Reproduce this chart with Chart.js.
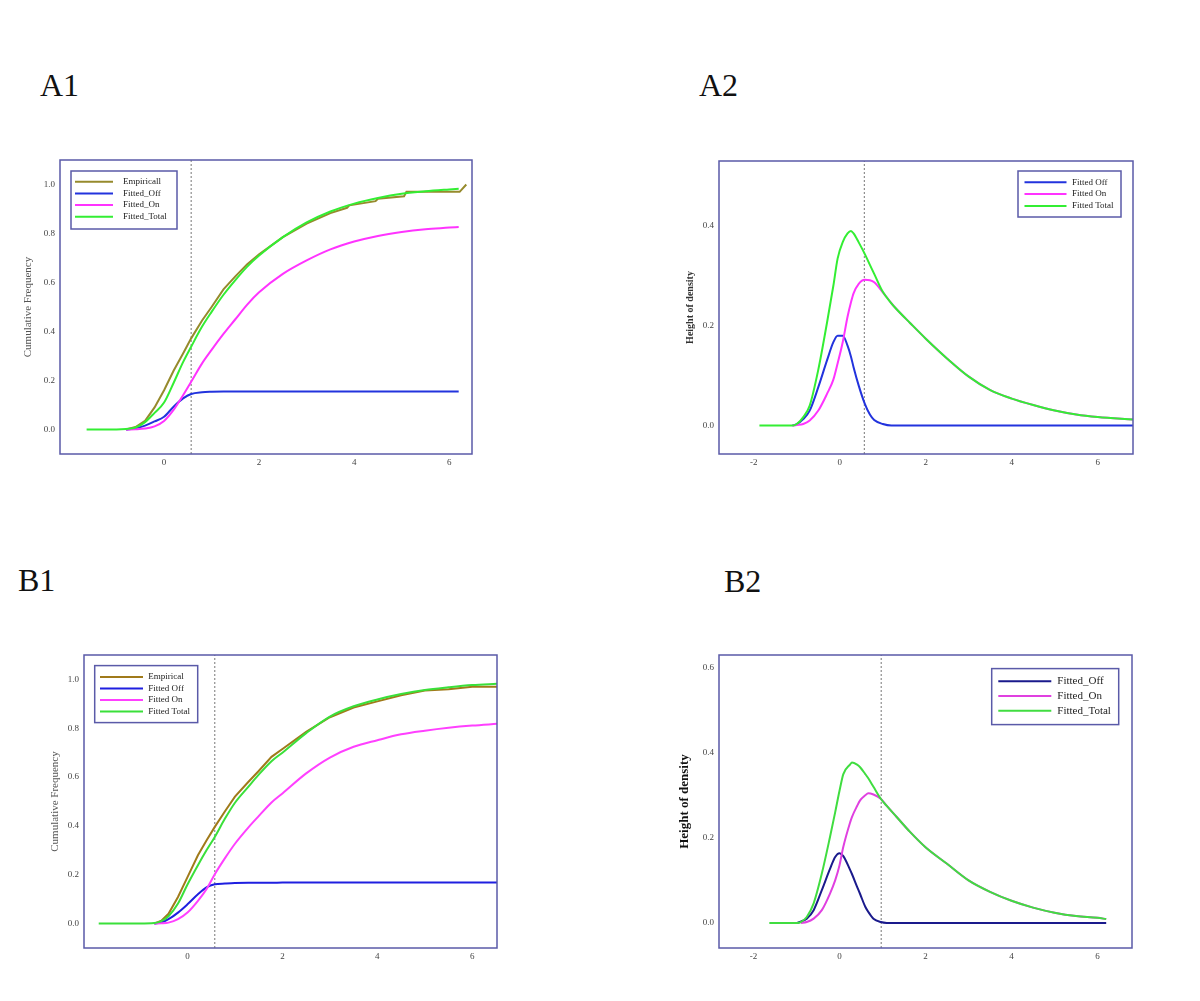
<!DOCTYPE html>
<html>
<head>
<meta charset="utf-8">
<script src="https://cdn.jsdelivr.net/npm/chart.js@4.4.0/dist/chart.umd.min.js"></script>
<style>
  body { margin: 0; background: #fff; width: 1200px; height: 1001px; position: relative; overflow: hidden; font-family: 'Liberation Serif', serif; }
  .panel-label { position: absolute; font-size: 32px; line-height: 32px; color: #111; }
  .plot { position: absolute; }
  .plot canvas { display: block; }
</style>
</head>
<body>
<div class="panel-label" style="left:40px;top:69px">A1</div>
<div class="panel-label" style="left:699px;top:69px">A2</div>
<div class="panel-label" style="left:18px;top:564px">B1</div>
<div class="panel-label" style="left:724px;top:565px">B2</div>

<div class="plot" id="boxA1"><canvas id="chartA1"></canvas></div>
<div class="plot" id="boxA2"><canvas id="chartA2"></canvas></div>
<div class="plot" id="boxB1"><canvas id="chartB1"></canvas></div>
<div class="plot" id="boxB2"><canvas id="chartB2"></canvas></div>

<script>
// ---- Data ----

// A1: cumulative frequency
const a1X = [-1.63, -1.0, -0.8, -0.6, -0.4, -0.2, 0, 0.2, 0.4, 0.57, 0.8, 1.0, 1.25, 1.5, 1.75, 2.0, 2.5, 3.0, 3.5, 4.0, 4.5, 5.0, 5.5, 6.0, 6.2];
const a1Off = [null, null, 0, 0.005, 0.016, 0.033, 0.052, 0.093, 0.127, 0.145, 0.152, 0.154, 0.155, 0.155, 0.155, 0.155, 0.155, 0.155, 0.155, 0.155, 0.155, 0.155, 0.155, 0.155, 0.155];
const a1On = [null, null, 0, 0.001, 0.004, 0.013, 0.035, 0.08, 0.14, 0.195, 0.27, 0.325, 0.39, 0.45, 0.51, 0.56, 0.635, 0.69, 0.735, 0.767, 0.79, 0.806, 0.817, 0.824, 0.827];
const a1Total = [0, 0, 0.002, 0.008, 0.03, 0.068, 0.11, 0.19, 0.275, 0.338, 0.42, 0.48, 0.55, 0.61, 0.665, 0.71, 0.785, 0.845, 0.89, 0.922, 0.945, 0.962, 0.972, 0.98, 0.983];
const a1EmpX = [-0.8, -0.6, -0.4, -0.2, 0, 0.2, 0.4, 0.57, 0.8, 1.0, 1.25, 1.5, 1.75, 2.0, 2.5, 3.0, 3.5, 3.85, 3.9, 4.45, 4.5, 5.05, 5.1, 6.22, 6.36];
const a1EmpY = [0, 0.01, 0.035, 0.09, 0.16, 0.24, 0.31, 0.372, 0.445, 0.5, 0.572, 0.625, 0.675, 0.715, 0.785, 0.84, 0.883, 0.905, 0.915, 0.932, 0.942, 0.952, 0.97, 0.97, 1.0];
const a1Labels = ['Empiricall', 'Fitted_Off', 'Fitted_On', 'Fitted_Total'];
const a1Cut = 0.57;

// A2: density
const a2X = [-1.87, -1.1, -1.0, -0.85, -0.7, -0.5, -0.3, -0.15, -0.05, 0.07, 0.18, 0.26, 0.32, 0.44, 0.58, 0.7, 0.8, 1.0, 1.2, 1.3, 1.64, 2.0, 2.5, 3.0, 3.5, 4.0, 4.5, 5.0, 5.5, 6.0, 6.82];
const a2Off = [null, 0, 0.003, 0.013, 0.03, 0.077, 0.13, 0.167, 0.18, 0.18, 0.16, 0.138, 0.117, 0.08, 0.044, 0.022, 0.011, 0.003, 0, 0, 0, 0, 0, 0, 0, 0, 0, 0, 0, 0, 0];
const a2On = [null, 0, 0.001, 0.003, 0.01, 0.03, 0.063, 0.092, 0.125, 0.168, 0.218, 0.247, 0.265, 0.284, 0.292, 0.291, 0.287, 0.267, 0.245, 0.235, 0.205, 0.174, 0.134, 0.098, 0.071, 0.054, 0.041, 0.03, 0.022, 0.017, 0.012];
const a2Total = [0, 0, 0.003, 0.017, 0.04, 0.112, 0.205, 0.28, 0.335, 0.368, 0.385, 0.39, 0.385, 0.367, 0.344, 0.322, 0.304, 0.268, 0.245, 0.235, 0.205, 0.174, 0.134, 0.098, 0.071, 0.054, 0.041, 0.03, 0.022, 0.017, 0.012];
const a2Labels = ['Fitted Off', 'Fitted On', 'Fitted Total'];
const a2Cut = 0.57;

// B1: cumulative frequency
const b1X = [-1.87, -1.0, -0.7, -0.55, -0.4, -0.2, 0, 0.22, 0.4, 0.575, 0.79, 1.0, 1.28, 1.5, 1.77, 2.0, 2.5, 3.0, 3.5, 4.0, 4.5, 5.0, 5.5, 6.0, 6.52];
const b1Off = [null, null, 0, 0.005, 0.018, 0.045, 0.079, 0.12, 0.148, 0.161, 0.164, 0.166, 0.167, 0.167, 0.167, 0.168, 0.168, 0.168, 0.168, 0.168, 0.168, 0.168, 0.168, 0.168, 0.168];
const b1On = [null, null, 0, 0.001, 0.004, 0.018, 0.045, 0.093, 0.141, 0.202, 0.268, 0.327, 0.393, 0.44, 0.496, 0.533, 0.615, 0.68, 0.724, 0.751, 0.775, 0.79, 0.802, 0.811, 0.818];
const b1Total = [0, 0, 0.002, 0.01, 0.03, 0.082, 0.16, 0.239, 0.3, 0.355, 0.43, 0.495, 0.56, 0.61, 0.665, 0.70, 0.78, 0.848, 0.89, 0.918, 0.94, 0.957, 0.968, 0.977, 0.982];
const b1EmpX = [-0.7, -0.55, -0.4, -0.2, 0, 0.22, 0.4, 0.575, 0.79, 1.0, 1.28, 1.5, 1.77, 2.0, 2.5, 3.0, 3.5, 4.0, 4.5, 5.0, 5.5, 6.0, 6.52];
const b1EmpY = [0, 0.012, 0.04, 0.109, 0.19, 0.28, 0.34, 0.396, 0.46, 0.52, 0.58, 0.625, 0.683, 0.715, 0.785, 0.845, 0.885, 0.91, 0.935, 0.955, 0.96, 0.97, 0.97];
const b1Labels = ['Empirical', 'Fitted Off', 'Fitted On', 'Fitted Total'];
const b1Cut = 0.575;

// B2: density
const b2X = [-1.63, -0.98, -0.9, -0.76, -0.6, -0.41, -0.22, -0.1, 0, 0.09, 0.25, 0.29, 0.41, 0.48, 0.6, 0.67, 0.79, 0.96, 1.1, 1.33, 1.64, 2.0, 2.5, 3.0, 3.5, 4.0, 4.5, 5.0, 5.5, 6.0, 6.2];
const b2Off = [null, 0, 0.003, 0.01, 0.03, 0.077, 0.127, 0.155, 0.164, 0.157, 0.124, 0.115, 0.085, 0.068, 0.038, 0.026, 0.01, 0.002, 0, 0, 0, 0, 0, 0, 0, 0, 0, 0, 0, 0, 0];
const b2On = [null, null, 0, 0.002, 0.01, 0.03, 0.069, 0.1, 0.135, 0.179, 0.237, 0.249, 0.275, 0.288, 0.3, 0.305, 0.302, 0.292, 0.275, 0.249, 0.214, 0.178, 0.139, 0.1, 0.073, 0.052, 0.036, 0.024, 0.016, 0.012, 0.009];
const b2Total = [0, 0, 0.002, 0.014, 0.046, 0.116, 0.202, 0.26, 0.31, 0.35, 0.373, 0.377, 0.372, 0.366, 0.35, 0.34, 0.32, 0.292, 0.275, 0.249, 0.214, 0.178, 0.139, 0.1, 0.073, 0.052, 0.036, 0.024, 0.016, 0.012, 0.009];
const b2Labels = ['Fitted_Off', 'Fitted_On', 'Fitted_Total'];
const b2Cut = 0.97;

// Tick labels
const cumYTicks = [0, 0.2, 0.4, 0.6, 0.8, 1.0];
const cumXTicks = [0, 2, 4, 6];
const a2YTicks = [0, 0.2, 0.4];
const b2YTicks = [0, 0.2, 0.4, 0.6];
const denXTicks = [-2, 0, 2, 4, 6];

const FRAME = '#5a5aa8';

// zip x/y arrays into points; null y leaves a gap
function pts(xs, ys) {
    return xs.map((x, i) => ({ x: x, y: ys[i] }));
}

// plot frame around the chart area
const framePlugin = {
    id: 'frame',
    afterDraw(chart) {
        const { ctx, chartArea: a } = chart;
        ctx.save();
        ctx.strokeStyle = FRAME;
        ctx.lineWidth = 1.5;
        ctx.strokeRect(a.left, a.top, a.right - a.left, a.bottom - a.top);
        ctx.restore();
    }
};

// boxed legend inside the plot, like the original figure
const boxLegend = {
    id: 'boxLegend',
    afterDatasetsDraw(chart, args, o) {
        const { ctx, chartArea: a } = chart;
        const x0 = a.left + o.x, y0 = a.top + o.y;
        ctx.save();
        ctx.fillStyle = '#fff';
        ctx.fillRect(x0, y0, o.w, o.h);
        ctx.strokeStyle = FRAME;
        ctx.lineWidth = 1.5;
        ctx.strokeRect(x0, y0, o.w, o.h);
        ctx.font = o.font;
        ctx.textBaseline = 'middle';
        chart.data.datasets.filter(d => !d.isGuide).forEach((d, i) => {
            const y = y0 + o.firstRow + i * o.rowGap;
            ctx.strokeStyle = d.borderColor;
            ctx.lineWidth = 2;
            ctx.beginPath();
            ctx.moveTo(x0 + o.lineX, y);
            ctx.lineTo(x0 + o.lineX + o.lineLen, y);
            ctx.stroke();
            ctx.fillStyle = '#222';
            ctx.fillText(d.label, x0 + o.textX, y);
        });
        ctx.restore();
    }
};

function curve(label, data, color, order, stepLike) {
    return {
        label: label,
        data: data,
        borderColor: color,
        borderWidth: 2,
        pointRadius: 0,
        order: order,
        tension: 0,
        cubicInterpolationMode: stepLike ? 'default' : 'monotone',
        fill: false
    };
}

function guide(cut, yMin, yMax) {
    return {
        label: '',
        isGuide: true,
        data: [{ x: cut, y: yMin }, { x: cut, y: yMax }],
        borderColor: '#777',
        borderWidth: 1,
        borderDash: [2, 2],
        pointRadius: 0,
        order: 5
    };
}

// box = plot area in page pixels
function makeChart(id, box, cfg) {
    const L = 45, T = 5, R = 5, B = 25;
    const wrap = document.getElementById('box' + id);
    wrap.style.left = (box.left - L) + 'px';
    wrap.style.top = (box.top - T) + 'px';
    const canvas = document.getElementById('chart' + id);
    canvas.width = box.w + L + R;
    canvas.height = box.h + T + B;

    const tickFont = { family: 'Liberation Serif', size: 9 };
    return new Chart(canvas, {
        type: 'line',
        data: { datasets: cfg.datasets },
        options: {
            responsive: false,
            animation: false,
            layout: { padding: { left: 0, top: T, right: R, bottom: 0 } },
            plugins: {
                legend: { display: false },
                tooltip: { enabled: false },
                boxLegend: cfg.legend
            },
            scales: {
                x: {
                    type: 'linear',
                    min: cfg.xMin, max: cfg.xMax,
                    grid: { display: false, drawTicks: false },
                    border: { display: false },
                    ticks: { font: tickFont, color: '#444', padding: 3, autoSkip: false, maxRotation: 0,
                        callback: v => String(v) },
                    afterBuildTicks: s => { s.ticks = cfg.xTicks.map(v => ({ value: v })); },
                    afterFit: s => { s.height = B; s.paddingLeft = 0; s.paddingRight = 0; }
                },
                y: {
                    min: cfg.yMin, max: cfg.yMax,
                    grid: { display: false, drawTicks: false },
                    border: { display: false },
                    ticks: { font: tickFont, color: '#444', padding: 5, autoSkip: false,
                        callback: v => Number(v).toFixed(1) },
                    afterBuildTicks: s => { s.ticks = cfg.yTicks.map(v => ({ value: v })); },
                    afterFit: s => { s.width = L; s.paddingTop = 0; s.paddingBottom = 0; },
                    title: {
                        display: true,
                        text: cfg.yTitle,
                        color: cfg.titleColor,
                        font: cfg.titleFont,
                        padding: { top: cfg.titlePad, bottom: 0 }
                    }
                }
            }
        },
        plugins: [framePlugin, boxLegend]
    });
}

document.addEventListener('DOMContentLoaded', () => {
    // A1
    makeChart('A1', { left: 60, top: 160, w: 412, h: 294 }, {
        xMin: -2.19, xMax: 6.48, yMin: -0.1, yMax: 1.1,
        xTicks: cumXTicks, yTicks: cumYTicks,
        yTitle: 'Cumulative Frequency',
        titleColor: '#555', titleFont: { family: 'Liberation Serif', size: 11 }, titlePad: 7,
        legend: { x: 11, y: 11, w: 106, h: 58, firstRow: 10.7, rowGap: 11.7, lineX: 4, lineLen: 38, textX: 52,
            font: '9px "Liberation Serif"' },
        datasets: [
            guide(a1Cut, -0.1, 1.1),
            curve(a1Labels[0], pts(a1EmpX, a1EmpY), '#968a2c', 3, true),
            curve(a1Labels[1], pts(a1X, a1Off), '#2233dd', 2),
            curve(a1Labels[2], pts(a1X, a1On), '#ff33ff', 1),
            curve(a1Labels[3], pts(a1X, a1Total), '#33ee33', 0)
        ]
    });

    // A2
    makeChart('A2', { left: 719, top: 161, w: 414, h: 293 }, {
        xMin: -2.81, xMax: 6.82, yMin: -0.057, yMax: 0.53,
        xTicks: denXTicks, yTicks: a2YTicks,
        yTitle: 'Height of density',
        titleColor: '#333', titleFont: { family: 'Liberation Serif', size: 10, weight: 'bold' }, titlePad: 10,
        legend: { x: 299, y: 10, w: 103, h: 46, firstRow: 11.3, rowGap: 11.8, lineX: 6.5, lineLen: 42, textX: 54,
            font: '9px "Liberation Serif"' },
        datasets: [
            guide(a2Cut, -0.057, 0.53),
            curve(a2Labels[0], pts(a2X, a2Off), '#2233dd', 2),
            curve(a2Labels[1], pts(a2X, a2On), '#ff33ff', 1),
            curve(a2Labels[2], pts(a2X, a2Total), '#33ee33', 0)
        ]
    });

    // B1
    makeChart('B1', { left: 84, top: 655, w: 413, h: 293 }, {
        xMin: -2.18, xMax: 6.52, yMin: -0.1, yMax: 1.1,
        xTicks: cumXTicks, yTicks: cumYTicks,
        yTitle: 'Cumulative Frequency',
        titleColor: '#555', titleFont: { family: 'Liberation Serif', size: 11 }, titlePad: 9.4,
        legend: { x: 10.7, y: 10.6, w: 103, h: 57, firstRow: 11.4, rowGap: 11.5, lineX: 5.3, lineLen: 43, textX: 53.6,
            font: '9px "Liberation Serif"' },
        datasets: [
            guide(b1Cut, -0.1, 1.1),
            curve(b1Labels[0], pts(b1EmpX, b1EmpY), '#a07a1a', 3, true),
            curve(b1Labels[1], pts(b1X, b1Off), '#1f1fe0', 2),
            curve(b1Labels[2], pts(b1X, b1On), '#ff40ff', 1),
            curve(b1Labels[3], pts(b1X, b1Total), '#3ae03a', 0)
        ]
    });

    // B2
    makeChart('B2', { left: 719, top: 655, w: 413, h: 293 }, {
        xMin: -2.8, xMax: 6.8, yMin: -0.059, yMax: 0.63,
        xTicks: denXTicks, yTicks: b2YTicks,
        yTitle: 'Height of density',
        titleColor: '#111', titleFont: { family: 'Liberation Serif', size: 13, weight: 'bold' }, titlePad: 3.2,
        legend: { x: 272.7, y: 13.6, w: 127, h: 56, firstRow: 12.7, rowGap: 14.7, lineX: 6.6, lineLen: 53, textX: 65.6,
            font: '11px "Liberation Serif"' },
        datasets: [
            guide(b2Cut, -0.059, 0.63),
            curve(b2Labels[0], pts(b2X, b2Off), '#1a1a8c', 2),
            curve(b2Labels[1], pts(b2X, b2On), '#e040e0', 1),
            curve(b2Labels[2], pts(b2X, b2Total), '#40dd40', 0)
        ]
    });
});
</script>
</body>
</html>
